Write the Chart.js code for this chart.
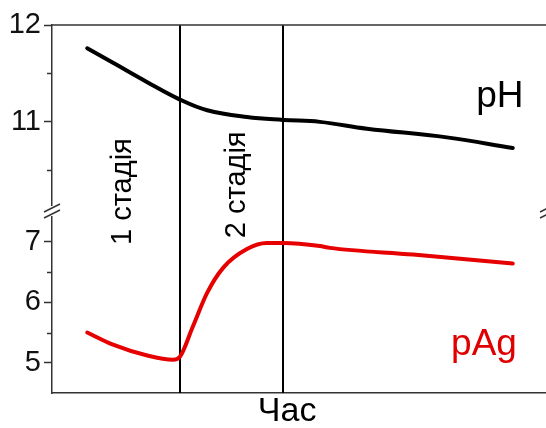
<!DOCTYPE html>
<html>
<head>
<meta charset="utf-8">
<script src="https://cdn.jsdelivr.net/npm/chart.js@4/dist/chart.umd.min.js"></script>
<style>
  html, body { margin: 0; padding: 0; overflow: hidden; background: #fff; }
  #wrap { width: 556px; height: 428px; position: relative; }
</style>
</head>
<body>
<div id="wrap"><canvas id="chart"></canvas></div>
<script>
// --- данні (час в умовних одиницях 0..100) ---
const phTime    = [7.1, 12.3, 19.2, 25.8, 31.3, 39.3, 46.6, 54.0, 63.5, 79.6, 92.9];
const phValues  = [11.76, 11.61, 11.41, 11.23, 11.12, 11.05, 11.02, 11.00, 10.93, 10.84, 10.73];
const pagTime   = [7.1, 12.3, 19.2, 24.4, 25.8, 28.4, 31.3, 34.5, 39.3, 43.3, 46.6, 54.0, 56.0, 72.8, 92.9];
const pagValues = [5.50, 5.30, 5.12, 5.05, 5.10, 5.60, 6.16, 6.57, 6.88, 6.98, 6.98, 6.93, 6.90, 6.79, 6.64];

const stageLines = [25.8, 46.6];            // межі стадій
const phTicks = [11, 12];
const phMinor = [10.5, 11.5];
const pagTicks = [5, 6, 7];
const pagMinor = [5.5, 6.5];

const FONT = '"Liberation Sans", Arial, sans-serif';
const AXIS = '#333';

const toPts = (xs, ys) => xs.map((x, i) => ({ x, y: ys[i] }));

// --- допоміжний плагін: рамка, розрив осі, стадії, підписи ---
const decor = {
  id: 'decor',
  beforeDatasetsDraw(chart) {
    const { ctx, chartArea: a, scales } = chart;
    ctx.save();
    ctx.strokeStyle = '#000';
    ctx.lineWidth = 2;
    stageLines.forEach(v => {
      const x = Math.round(scales.x.getPixelForValue(v));
      ctx.beginPath();
      ctx.moveTo(x, a.top);
      ctx.lineTo(x, a.bottom);
      ctx.stroke();
    });
    ctx.restore();
  },
  afterDraw(chart) {
    const { ctx, chartArea: a, scales } = chart;
    const yt = scales.yTop, yb = scales.yBot, x = scales.x;
    ctx.save();

    // верхня лінія рамки
    ctx.strokeStyle = AXIS;
    ctx.lineWidth = 1.5;
    ctx.beginPath();
    ctx.moveTo(a.left, a.top);
    ctx.lineTo(chart.width, a.top);
    ctx.stroke();

    // малі поділки
    const minor = (scale, vals) => vals.forEach(v => {
      const y = Math.round(scale.getPixelForValue(v)) + 0.5;
      ctx.beginPath();
      ctx.moveTo(a.left - 5, y);
      ctx.lineTo(a.left, y);
      ctx.stroke();
    });
    minor(yt, phMinor);
    minor(yb, pagMinor);

    // розрив осі
    const by = yt.bottom;
    [a.left, a.right].forEach(ax => {
      ctx.fillStyle = '#fff';
      ctx.fillRect(ax - 3, by - 5, 6, 10);
      ctx.strokeStyle = AXIS;
      ctx.lineWidth = 1.5;
      [-3, 3].forEach(off => {
        ctx.beginPath();
        ctx.moveTo(ax - 8, by + off + 4);
        ctx.lineTo(ax + 8, by + off - 4);
        ctx.stroke();
      });
    });

    // підписи
    ctx.textAlign = 'center';
    ctx.textBaseline = 'middle';
    ctx.fillStyle = '#000';
    ctx.font = '37px ' + FONT;
    ctx.fillText('pH', x.getPixelForValue(90.3), yt.getPixelForValue(11.26));
    ctx.fillStyle = '#e00000';
    ctx.fillText('pAg', x.getPixelForValue(87.1), yb.getPixelForValue(5.3));

    ctx.fillStyle = '#000';
    ctx.font = '34px ' + FONT;
    ctx.fillText('Час', x.getPixelForValue(47.4), a.bottom + 19);

    ctx.font = '29px ' + FONT;
    [['1 стадія', 14.3, 10.28], ['2 стадія', 37.3, 10.35]].forEach(([t, xv, yv]) => {
      ctx.save();
      ctx.translate(x.getPixelForValue(xv), yt.getPixelForValue(yv));
      ctx.rotate(-Math.PI / 2);
      ctx.fillText(t, 0, 0);
      ctx.restore();
    });
    ctx.restore();
  }
};

const yCommon = {
  type: 'linear',
  position: 'left',
  stack: 'ph-pag',
  border: { color: AXIS, width: 1.5 },
  grid: { drawOnChartArea: false, tickLength: 8, tickColor: AXIS, tickWidth: 1.5 },
  ticks: { color: '#111', font: { family: FONT, size: 29 }, padding: 3 },
  afterFit: s => { s.width = 52; }
};

new Chart(document.getElementById('chart'), {
  type: 'line',
  data: {
    datasets: [
      {
        label: 'pH',
        data: toPts(phTime, phValues),
        yAxisID: 'yTop',
        borderColor: '#000',
        borderWidth: 4,
        pointRadius: 0,
        tension: 0.4,
        borderCapStyle: 'round'
      },
      {
        label: 'pAg',
        data: toPts(pagTime, pagValues),
        yAxisID: 'yBot',
        borderColor: '#e60000',
        borderWidth: 4,
        pointRadius: 0,
        cubicInterpolationMode: 'monotone',
        borderCapStyle: 'round'
      }
    ]
  },
  options: {
    responsive: true,
    maintainAspectRatio: false,
    animation: false,
    layout: { padding: { left: 0, top: 25, right: 8, bottom: 35 } },
    plugins: { legend: { display: false }, tooltip: { enabled: false } },
    scales: {
      x: {
        type: 'linear',
        min: 0,
        max: 100,
        border: { color: AXIS, width: 1.5 },
        grid: { display: true, drawOnChartArea: false, drawTicks: false },
        ticks: { display: false }
      },
      yBot: Object.assign({}, yCommon, {
        min: 4.5,
        max: 7.51,
        stackWeight: 182,
        afterBuildTicks: s => { s.ticks = pagTicks.map(v => ({ value: v })); }
      }),
      yTop: Object.assign({}, yCommon, {
        min: 10.08,
        max: 12,
        stackWeight: 186,
        afterBuildTicks: s => { s.ticks = phTicks.map(v => ({ value: v })); }
      })
    }
  },
  plugins: [decor]
});
</script>
</body>
</html>
